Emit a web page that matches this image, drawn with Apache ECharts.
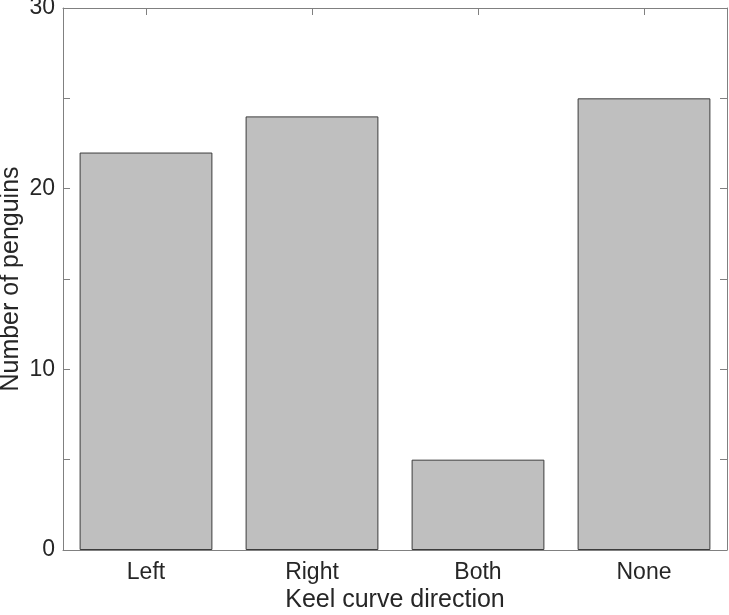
<!DOCTYPE html>
<html>
<head>
    <meta http-equiv="Content-Type" content="text/html; charset=utf-8">
    <title>Keel curve direction</title>
    <script src="https://cdn.jsdelivr.net/npm/echarts@6/dist/echarts.min.js"></script>
    <style>
        body {margin:0; background:#fff;}
    </style>
</head>
<body>
    <div id="main" style="width: 729px;height:615px;"></div>
    <script type="text/javascript">
        var categories = ['Left', 'Right', 'Both', 'None'];
        var penguins = [22, 24, 5, 25];
        var yTicks = [0, 10, 20, 30];

        var axisColor = '#808080';
        var textColor = '#262626';
        var font = 'Liberation Sans, Arial, sans-serif';

        var myChart = echarts.init(document.getElementById('main'));

        var catAxis = function (pos, show) {
            return {
                type: 'category',
                position: pos,
                data: categories,
                axisLine: {show: true, onZero: false, lineStyle: {color: axisColor, width: 1}},
                axisTick: {show: true, inside: true, length: 7, alignWithLabel: true, lineStyle: {color: axisColor}},
                axisLabel: {show: show, color: textColor, fontSize: 23, fontFamily: font, margin: 11},
                splitLine: {show: false}
            };
        };
        var valAxis = function (pos, show) {
            return {
                type: 'value',
                position: pos,
                min: 0, max: 30, interval: 5,
                axisLine: {show: true, lineStyle: {color: axisColor, width: 1}},
                axisTick: {show: true, inside: true, length: 7, lineStyle: {color: axisColor}},
                axisLabel: {
                    show: show, color: textColor, fontSize: 23, fontFamily: font, margin: 8,
                    padding: [3, 0, 0, 0],
                    formatter: function (v) { return yTicks.indexOf(v) >= 0 ? String(v) : ''; }
                },
                splitLine: {show: false}
            };
        };

        var xBottom = catAxis('bottom', true);
        xBottom.name = 'Keel curve direction';
        xBottom.nameLocation = 'middle';
        xBottom.nameGap = 38;
        xBottom.nameMoveOverlap = false;
        xBottom.nameTextStyle = {color: textColor, fontSize: 25, fontFamily: font};

        var yLeft = valAxis('left', true);
        yLeft.name = 'Number of penguins';
        yLeft.nameLocation = 'middle';
        yLeft.nameGap = 39;
        yLeft.nameMoveOverlap = false;
        yLeft.nameTextStyle = {color: textColor, fontSize: 25, fontFamily: font};

        var option = {
            animation: false,
            grid: {left: 63, right: 2, top: 8, bottom: 65, containLabel: false, outerBoundsMode: 'none'},
            xAxis: [xBottom, catAxis('top', false)],
            yAxis: [yLeft, valAxis('right', false)],
            series: [{
                type: 'bar',
                data: penguins,
                barCategoryGap: '20%',
                itemStyle: {color: '#bfbfbf', borderColor: '#3c3c3c', borderWidth: 1}
            }]
        };

        myChart.setOption(option);
    </script>
</body>
</html>
